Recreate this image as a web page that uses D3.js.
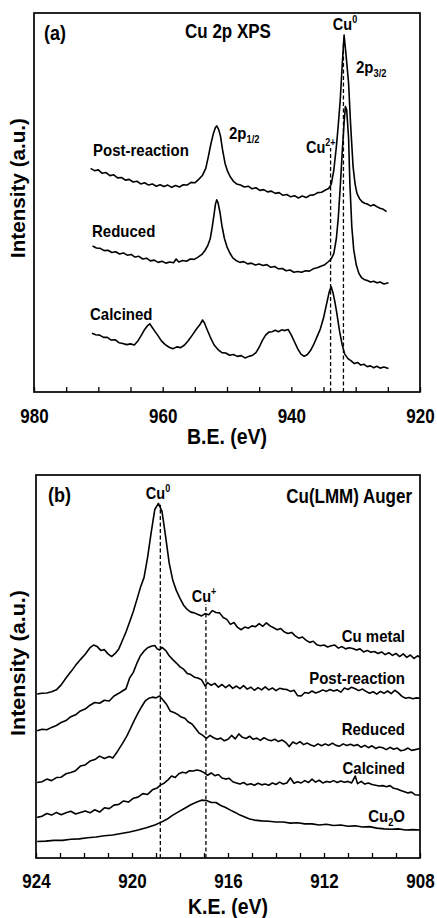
<!DOCTYPE html>
<html>
<head>
<meta charset="utf-8">
<script src="https://cdn.jsdelivr.net/npm/d3@7"></script>
<style>
html,body{margin:0;padding:0;background:#fff;}
svg{display:block;}
text{font-family:"Liberation Sans",Arial,Helvetica,sans-serif;font-weight:bold;fill:#000;}
</style>
</head>
<body>
<script>
// ---------- Panel (a): Cu 2p XPS, [B.E. eV, intensity a.u.] ----------
const xpsPostReaction = [[971.2,59.0],[970.6,58.4],[970.0,58.6],[969.4,57.7],[968.8,57.9],[968.2,57.1],[967.6,57.3],[967.0,56.5],[966.4,56.6],[965.8,55.9],[965.2,56.1],[964.6,55.4],[964.0,55.6],[963.4,54.9],[962.8,55.2],[962.2,54.6],[961.6,54.9],[961.0,54.3],[960.4,54.7],[959.8,54.2],[959.2,54.6],[958.6,54.0],[958.0,54.5],[957.4,54.1],[956.8,54.7],[956.2,54.6],[955.6,55.3],[955.0,55.2],[954.4,56.1],[953.8,57.2],[953.3,59.0],[952.9,62.1],[952.5,65.5],[952.1,68.3],[951.8,69.8],[951.6,70.2],[951.3,69.3],[951.0,67.4],[950.7,64.0],[950.3,60.3],[949.9,58.2],[949.5,56.8],[949.0,55.6],[948.5,54.9],[947.9,54.6],[947.3,54.1],[946.7,54.3],[946.1,53.6],[945.5,53.9],[944.9,53.2],[944.3,53.4],[943.7,52.8],[943.1,53.0],[942.5,52.4],[941.9,52.6],[941.3,51.9],[940.7,52.1],[940.1,51.5],[939.5,51.8],[938.9,51.2],[938.3,51.7],[937.7,51.3],[937.1,51.9],[936.5,52.0],[935.9,52.6],[935.3,52.7],[934.7,53.3],[934.2,53.7],[933.8,54.8],[933.4,58.5],[933.0,64.7],[932.7,70.5],[932.4,77.0],[932.1,86.0],[931.8,94.2],[931.5,89.0],[931.1,81.5],[930.8,71.0],[930.4,59.4],[930.1,55.0],[929.8,52.4],[929.4,51.0],[929.0,50.2],[928.6,49.8],[928.2,49.6],[927.7,49.1],[927.2,49.4],[926.7,48.9],[926.2,48.5],[925.7,48.2],[925.2,47.6]];
const xpsReduced = [[970.9,38.5],[970.3,38.0],[969.7,37.9],[969.1,37.3],[968.5,37.4],[967.9,36.8],[967.3,37.0],[966.7,36.4],[966.1,36.7],[965.5,36.1],[964.9,36.3],[964.3,35.6],[963.7,35.8],[963.1,35.1],[962.5,35.3],[961.9,34.6],[961.3,34.8],[960.7,34.2],[960.1,34.5],[959.5,34.0],[958.9,34.3],[958.3,34.1],[957.9,35.1],[957.5,34.3],[956.9,34.7],[956.3,34.5],[955.7,35.1],[955.1,35.0],[954.5,35.6],[953.9,36.3],[953.4,37.4],[953.0,38.6],[952.6,40.5],[952.3,43.5],[952.0,47.0],[951.8,49.5],[951.6,50.7],[951.4,50.0],[951.1,47.5],[950.8,44.0],[950.4,40.5],[950.0,38.3],[949.6,36.8],[949.1,35.4],[948.6,34.7],[948.0,34.2],[947.4,34.4],[946.8,33.8],[946.2,34.0],[945.6,33.5],[945.0,33.8],[944.4,33.4],[943.8,33.6],[943.2,32.9],[942.6,33.1],[942.0,32.5],[941.4,32.6],[940.8,32.0],[940.2,32.2],[939.6,31.6],[939.0,31.8],[938.4,31.6],[937.8,32.0],[937.2,31.9],[936.6,32.5],[936.0,32.8],[935.4,33.2],[934.8,33.6],[934.3,34.3],[933.8,35.1],[933.4,36.5],[933.0,40.5],[932.7,46.0],[932.4,54.0],[932.1,63.0],[931.8,71.0],[931.6,75.3],[931.4,74.5],[931.1,67.0],[930.9,55.0],[930.6,43.6],[930.3,37.5],[929.9,33.5],[929.5,31.3],[929.1,30.2],[928.7,29.7],[928.2,29.4],[927.7,29.0],[927.2,29.2],[926.7,28.8],[926.2,29.0],[925.6,28.5],[924.9,28.8]];
const xpsCalcined = [[971.0,15.5],[970.4,15.1],[969.8,15.0],[969.2,14.4],[968.6,14.4],[968.0,13.7],[967.4,13.8],[966.8,13.0],[966.2,12.8],[965.6,12.5],[965.0,12.7],[964.4,12.4],[963.8,13.6],[963.3,15.0],[962.8,16.5],[962.3,17.6],[962.0,18.0],[961.7,17.2],[961.2,16.0],[960.7,14.8],[960.2,13.5],[959.6,12.5],[959.0,11.8],[958.4,11.4],[957.8,11.9],[957.2,11.7],[956.6,12.4],[956.0,13.6],[955.4,15.0],[954.8,16.5],[954.2,17.8],[953.8,19.0],[953.5,18.2],[953.1,16.5],[952.6,14.5],[952.0,12.4],[951.4,11.2],[950.8,10.4],[950.2,10.3],[949.6,9.7],[949.0,9.9],[948.4,9.4],[947.8,9.6],[947.2,9.0],[946.6,9.4],[946.0,9.7],[945.5,10.4],[945.0,11.8],[944.5,13.6],[944.0,15.0],[943.5,15.8],[943.0,15.9],[942.5,16.3],[942.0,15.9],[941.5,16.4],[941.0,16.2],[940.5,16.5],[940.0,15.0],[939.5,13.2],[939.0,11.4],[938.5,10.0],[938.0,9.4],[937.5,9.9],[937.0,11.0],[936.5,12.6],[936.0,14.6],[935.5,16.6],[935.0,19.5],[934.5,23.4],[934.1,26.5],[933.8,27.8],[933.5,26.0],[933.2,23.5],[932.9,20.5],[932.5,16.0],[932.1,12.5],[931.7,10.0],[931.2,8.8],[930.7,8.2],[930.2,7.5],[929.7,7.8],[929.2,7.1],[928.7,7.3],[928.2,6.7],[927.7,6.9],[927.2,6.4],[926.7,6.8],[926.2,6.3],[925.6,6.6],[924.9,6.2]];
const xpsTicks = [980,975,970,965,960,955,950,945,940,935,930,925,920];
const xpsTickLabels = [980,960,940,920];
const xpsMarkers = [{label:"Cu2+", be:933.9, top:64.4},{label:"Cu0", be:931.9, top:92.3}];

// ---------- Panel (b): Cu(LMM) Auger, [K.E. eV, intensity a.u.] ----------
const augerCuMetal = [[923.95,42.8],[923.75,43.0],[923.55,43.1],[923.35,43.4],[923.15,43.9],[922.95,45.2],[922.75,47.0],[922.55,48.6],[922.35,50.3],[922.15,51.8],[921.95,53.2],[921.75,54.9],[921.6,55.6],[921.45,55.2],[921.3,54.2],[921.15,54.4],[921.0,53.3],[920.85,52.6],[920.7,53.4],[920.55,54.6],[920.4,56.8],[920.25,59.0],[920.1,61.6],[919.95,64.3],[919.8,67.4],[919.65,70.6],[919.5,73.2],[919.35,78.5],[919.2,85.0],[919.05,91.0],[918.9,92.6],[918.75,90.5],[918.6,84.0],[918.45,77.0],[918.3,72.5],[918.15,69.8],[918.0,67.8],[917.85,66.0],[917.7,64.9],[917.55,64.2],[917.4,64.0],[917.25,63.6],[917.1,63.2],[916.95,63.8],[916.8,63.5],[916.65,64.6],[916.5,64.1],[916.35,64.0],[916.2,62.8],[916.05,62.3],[915.9,61.0],[915.75,61.5],[915.6,60.2],[915.45,59.6],[915.3,60.3],[915.15,60.0],[915.0,60.6],[914.85,60.4],[914.7,61.2],[914.55,60.5],[914.4,61.4],[914.25,60.6],[914.1,60.1],[913.95,59.6],[913.8,59.9],[913.65,59.0],[913.5,58.6],[913.35,58.9],[913.2,58.0],[913.05,57.4],[912.9,57.7],[912.75,56.9],[912.6,56.3],[912.45,56.6],[912.3,55.7],[912.15,55.4],[912.0,55.6],[911.85,55.1],[911.7,55.4],[911.55,55.6],[911.4,54.8],[911.25,55.2],[911.1,54.6],[910.95,54.9],[910.8,54.7],[910.65,54.3],[910.5,54.6],[910.35,53.8],[910.2,54.2],[910.05,53.7],[909.9,53.9],[909.75,53.4],[909.6,53.8],[909.45,53.1],[909.3,53.6],[909.15,52.9],[909.0,53.4],[908.85,52.6],[908.7,53.3],[908.55,52.4],[908.4,53.0],[908.25,52.1],[908.1,52.8],[908.0,52.4]];
const augerPostReaction = [[923.95,33.2],[923.75,33.6],[923.55,33.5],[923.35,34.1],[923.15,34.6],[922.95,35.4],[922.75,35.9],[922.55,36.9],[922.35,37.4],[922.15,38.4],[921.95,38.9],[921.75,39.9],[921.55,40.6],[921.35,40.4],[921.15,41.2],[920.95,41.0],[920.75,42.3],[920.55,43.0],[920.4,43.6],[920.25,44.2],[920.1,47.0],[919.95,48.4],[919.8,50.8],[919.65,52.8],[919.5,54.0],[919.35,54.9],[919.2,55.3],[919.05,55.5],[918.95,54.6],[918.85,54.3],[918.75,55.0],[918.6,54.2],[918.45,52.8],[918.3,51.8],[918.15,50.9],[918.0,49.9],[917.85,49.3],[917.7,48.2],[917.55,47.9],[917.4,47.2],[917.25,47.0],[917.1,46.5],[916.95,44.9],[916.85,45.8],[916.7,45.1],[916.55,45.6],[916.4,44.6],[916.25,45.3],[916.1,44.5],[915.95,45.2],[915.8,44.3],[915.65,44.9],[915.5,44.2],[915.35,45.0],[915.2,44.1],[915.05,44.6],[914.9,43.8],[914.75,44.5],[914.6,43.9],[914.45,44.7],[914.3,43.9],[914.15,44.4],[914.0,43.7],[913.85,44.3],[913.7,44.1],[913.55,44.0],[913.4,43.5],[913.25,43.8],[913.1,42.4],[912.95,42.3],[912.8,43.2],[912.65,43.0],[912.5,43.6],[912.35,43.1],[912.2,43.4],[912.05,43.9],[911.9,43.5],[911.75,44.0],[911.6,43.6],[911.45,43.9],[911.3,43.3],[911.15,44.4],[911.0,44.0],[910.85,44.6],[910.7,44.2],[910.55,43.7],[910.4,44.1],[910.25,43.5],[910.1,43.0],[909.95,43.4],[909.8,42.8],[909.65,43.5],[909.5,43.0],[909.35,43.6],[909.2,42.9],[909.05,43.8],[908.9,43.1],[908.75,42.2],[908.6,41.7],[908.45,41.9],[908.3,41.6],[908.15,41.8],[908.0,41.7]];
const augerReduced = [[923.95,19.7],[923.75,19.9],[923.55,20.6],[923.35,20.2],[923.15,21.0],[922.95,21.1],[922.75,22.0],[922.55,22.3],[922.35,22.8],[922.15,24.0],[921.95,24.3],[921.75,25.3],[921.55,25.7],[921.35,26.6],[921.15,26.0],[920.95,26.5],[920.8,26.1],[920.65,27.4],[920.5,28.9],[920.35,30.4],[920.2,32.0],[920.05,34.0],[919.9,36.0],[919.75,37.8],[919.6,39.5],[919.45,41.0],[919.3,41.7],[919.15,42.0],[919.0,41.8],[918.85,42.3],[918.7,41.2],[918.55,40.0],[918.4,38.3],[918.25,38.0],[918.1,37.5],[917.95,36.8],[917.8,36.5],[917.65,35.5],[917.5,35.0],[917.35,33.8],[917.2,32.6],[917.05,32.0],[916.9,31.2],[916.75,32.0],[916.6,31.4],[916.45,31.0],[916.3,31.3],[916.15,30.6],[916.0,31.0],[915.85,32.0],[915.7,31.1],[915.55,32.4],[915.4,31.5],[915.25,31.2],[915.1,31.8],[914.95,31.0],[914.8,31.3],[914.65,30.7],[914.5,31.4],[914.35,30.9],[914.2,30.6],[914.05,31.0],[913.9,30.4],[913.75,30.8],[913.6,30.2],[913.45,29.1],[913.3,30.3],[913.15,29.8],[913.0,30.4],[912.85,29.6],[912.7,30.0],[912.55,29.5],[912.4,29.2],[912.25,29.8],[912.1,29.3],[911.95,29.8],[911.8,29.4],[911.65,30.0],[911.5,29.4],[911.35,29.2],[911.2,29.8],[911.05,29.4],[910.9,29.7],[910.75,29.3],[910.6,29.6],[910.45,28.9],[910.3,29.4],[910.15,28.8],[910.0,29.3],[909.85,28.6],[909.7,29.0],[909.55,28.8],[909.4,28.3],[909.25,28.9],[909.1,28.4],[908.95,28.7],[908.8,28.0],[908.65,28.2],[908.5,28.7],[908.35,28.1],[908.2,28.3],[908.0,28.6]];
const augerCalcined = [[923.95,10.6],[923.75,10.9],[923.55,11.6],[923.35,11.2],[923.15,11.9],[922.95,11.3],[922.75,11.8],[922.55,12.2],[922.35,11.5],[922.15,11.9],[921.95,12.3],[921.75,11.8],[921.55,12.6],[921.35,12.0],[921.15,13.1],[920.95,12.9],[920.75,13.8],[920.55,14.0],[920.35,14.9],[920.15,14.6],[919.95,15.6],[919.75,15.9],[919.55,16.8],[919.35,16.6],[919.15,17.8],[918.95,18.3],[918.8,19.1],[918.65,19.6],[918.5,20.4],[918.35,21.4],[918.2,21.0],[918.05,22.0],[917.9,22.4],[917.75,22.2],[917.6,22.8],[917.45,22.7],[917.3,23.0],[917.15,22.8],[917.0,22.3],[916.85,21.6],[916.7,22.2],[916.55,21.5],[916.4,21.8],[916.25,20.9],[916.1,20.6],[915.95,20.8],[915.8,19.9],[915.65,19.6],[915.5,19.3],[915.35,19.7],[915.2,19.1],[915.05,19.4],[914.9,19.0],[914.75,19.5],[914.6,19.1],[914.45,19.3],[914.3,19.0],[914.15,19.6],[914.0,19.2],[913.85,19.8],[913.7,19.3],[913.55,19.6],[913.4,20.9],[913.25,19.5],[913.1,19.9],[912.95,19.6],[912.8,20.2],[912.65,19.7],[912.5,20.6],[912.35,19.8],[912.2,20.3],[912.05,19.6],[911.9,20.0],[911.75,19.8],[911.6,20.2],[911.45,19.7],[911.3,20.1],[911.15,19.8],[911.0,20.0],[910.85,19.6],[910.7,21.4],[910.6,19.4],[910.45,20.0],[910.3,19.3],[910.15,19.6],[910.0,19.2],[909.85,19.0],[909.7,18.8],[909.55,18.9],[909.4,18.6],[909.25,18.9],[909.1,18.2],[908.95,18.0],[908.8,17.6],[908.65,17.3],[908.5,17.0],[908.35,17.2],[908.2,16.5],[908.0,16.4]];
const augerCu2O = [[923.95,4.3],[923.6,4.4],[923.25,4.6],[922.9,4.6],[922.55,4.9],[922.2,5.0],[921.85,5.3],[921.5,5.5],[921.15,5.8],[920.8,6.0],[920.45,6.4],[920.1,6.8],[919.75,7.3],[919.4,7.9],[919.05,8.6],[918.8,9.3],[918.55,10.1],[918.3,11.2],[918.05,12.1],[917.8,13.0],[917.55,13.9],[917.3,14.6],[917.1,15.1],[916.9,15.0],[916.7,14.5],[916.5,14.5],[916.3,13.7],[916.1,13.2],[915.9,12.5],[915.7,11.9],[915.5,11.2],[915.3,10.7],[915.1,10.2],[914.9,9.9],[914.6,9.7],[914.3,9.6],[914.0,9.4],[913.7,9.4],[913.4,9.1],[913.1,9.2],[912.8,8.9],[912.5,8.9],[912.2,8.6],[911.9,8.8],[911.6,8.5],[911.3,8.6],[911.0,8.3],[910.7,8.4],[910.4,8.1],[910.1,8.2],[909.8,7.8],[909.5,7.6],[909.2,7.5],[908.9,7.6],[908.6,7.3],[908.3,7.4],[908.0,7.3]];
const augerTicks = [924,923,922,921,920,919,918,917,916,915,914,913,912,911,910,909,908];
const augerTickLabels = [924,920,916,912,908];
const augerMarkers = [{label:"Cu0", ke:918.82, top:92.2},{label:"Cu+", ke:916.92, top:66.3}];

const W = 437, H = 918;
const SY = 1.15; // vertical glyph stretch seen in the reference lettering
const svg = d3.select("body").append("svg").attr("width", W).attr("height", H);

function drawPanel(o){
  const g = svg.append("g");
  const x = d3.scaleLinear().domain(o.xDomain).range([o.left, o.right]);
  const y = d3.scaleLinear().domain([0,100]).range([o.bottom, o.top]);
  const line = d3.line().x(d=>x(d[0])).y(d=>y(d[1]));
  o.series.forEach(s=>{
    g.append("path").datum(s).attr("d", line)
      .attr("fill","none").attr("stroke","#000").attr("stroke-width",1.6).attr("stroke-linejoin","round");
  });
  o.markers.forEach(m=>{
    g.append("line").attr("x1",x(m.pos)).attr("x2",x(m.pos)).attr("y1",y(0)).attr("y2",y(m.top))
      .attr("stroke","#000").attr("stroke-width",1.3).attr("stroke-dasharray","4,2.5");
  });
  const axis = d3.axisBottom(x).tickValues(o.ticks).tickSizeInner(-5).tickSizeOuter(0).tickPadding(0)
    .tickFormat(d=> o.labels.includes(d) ? String(d) : "");
  const ag = g.append("g").attr("transform",`translate(0,${o.bottom})`).call(axis);
  ag.select(".domain").remove();
  ag.selectAll(".tick line").attr("stroke","#000").attr("stroke-width",1.3);
  ag.selectAll(".tick text").attr("y",0).attr("dy",null)
    .attr("transform",`translate(0,${o.tickBase}) scale(1,${SY})`)
    .style("font-family",'"Liberation Sans",Arial,sans-serif')
    .style("font-weight","bold").style("font-size","17px").attr("fill","#000");
  g.append("rect").attr("x",o.left).attr("y",o.top).attr("width",o.right-o.left).attr("height",o.bottom-o.top)
    .attr("fill","none").attr("stroke","#000").attr("stroke-width",1.7);
  g.append("text").attr("transform",`translate(${(o.left+o.right)/2},${o.bottom+o.titleBase}) scale(1,${SY})`)
    .attr("text-anchor","middle").style("font-size","19.5px").text(o.xTitle);
  g.append("text").attr("transform",`translate(25,${o.yTitleCenter}) rotate(-90)`).attr("text-anchor","middle")
    .attr("textLength",o.yTitleLen).attr("lengthAdjust","spacingAndGlyphs")
    .style("font-size","19.5px").text("Intensity (a.u.)");
  return {g,x,y};
}

function label(g, x, y, parts, size, anchor){
  const t = g.append("text").attr("transform",`translate(${x},${y}) scale(1,${SY})`)
    .attr("text-anchor",anchor||"start").style("font-size",size+"px");
  parts.forEach(p=>{
    const ts = t.append("tspan").text(p.t);
    if(p.sup){ ts.style("font-size",(size*0.62)+"px").attr("dy",-size*0.42); }
    else if(p.sub){ ts.style("font-size",(size*0.62)+"px").attr("dy",size*0.22); }
    else if(p.reset){ ts.attr("dy",p.reset); }
  });
  return t;
}

// Panel (a)
const A = drawPanel({left:34,right:420,top:13,bottom:392,xDomain:[980,920],
  series:[xpsPostReaction,xpsReduced,xpsCalcined],
  markers:xpsMarkers.map(m=>({pos:m.be,top:m.top})),
  ticks:xpsTicks,labels:xpsTickLabels,xTitle:"B.E. (eV)",tickBase:31,titleBase:52,
  yTitleCenter:188,yTitleLen:140});
label(A.g,44,40,[{t:"(a)"}],18);
label(A.g,228,38,[{t:"Cu 2p XPS"}],17,"middle");
label(A.g,345,30,[{t:"Cu"},{t:"0",sup:true}],14.5,"middle");
label(A.g,356,73,[{t:"2p"},{t:"3/2",sub:true}],15);
label(A.g,229,139,[{t:"2p"},{t:"1/2",sub:true}],15);
label(A.g,306,153,[{t:"Cu"},{t:"2+",sup:true}],14.5);
label(A.g,93,156,[{t:"Post-reaction"}],15);
label(A.g,92,237,[{t:"Reduced"}],15);
label(A.g,90,320,[{t:"Calcined"}],15);

// Panel (b)
const B = drawPanel({left:36,right:420,top:475,bottom:858,xDomain:[924,908],
  series:[augerCuMetal,augerPostReaction,augerReduced,augerCalcined,augerCu2O],
  markers:augerMarkers.map(m=>({pos:m.ke,top:m.top})),
  ticks:augerTicks,labels:augerTickLabels,xTitle:"K.E. (eV)",tickBase:30,titleBase:56,
  yTitleCenter:663,yTitleLen:146});
label(B.g,48,502,[{t:"(b)"}],18);
label(B.g,158,499,[{t:"Cu"},{t:"0",sup:true}],14.5,"middle");
label(B.g,412,503,[{t:"Cu(LMM) Auger"}],17,"end");
label(B.g,204,602,[{t:"Cu"},{t:"+",sup:true}],14.5,"middle");
label(B.g,405,642,[{t:"Cu metal"}],15,"end");
label(B.g,405,684,[{t:"Post-reaction"}],15,"end");
label(B.g,405,735,[{t:"Reduced"}],15,"end");
label(B.g,405,774,[{t:"Calcined"}],15,"end");
label(B.g,405,822,[{t:"Cu"},{t:"2",sub:true},{t:"O",reset:-15*0.22}],15,"end");
</script>
</body>
</html>
